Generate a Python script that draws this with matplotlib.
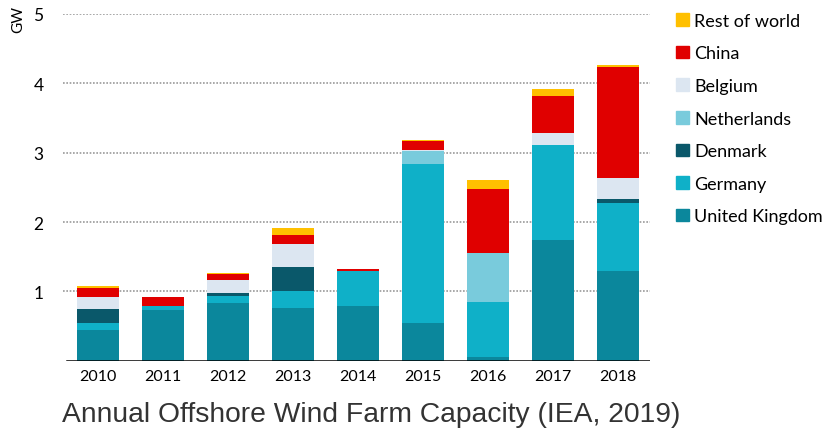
import numpy as np
import matplotlib.pyplot as plt
from matplotlib.patches import Patch

# annual offshore wind capacity additions, GW
years = ["2010", "2011", "2012", "2013", "2014", "2015", "2016", "2017", "2018"]
uk          = [0.44, 0.74, 0.84, 0.76, 0.79, 0.55, 0.05, 1.74, 1.30]
germany     = [0.11, 0.05, 0.09, 0.24, 0.51, 2.29, 0.80, 1.37, 0.97]
denmark     = [0.20, 0.00, 0.05, 0.35, 0.00, 0.00, 0.00, 0.00, 0.06]
netherlands = [0.00, 0.00, 0.00, 0.00, 0.00, 0.18, 0.70, 0.00, 0.00]
belgium     = [0.17, 0.00, 0.18, 0.33, 0.00, 0.02, 0.00, 0.17, 0.31]
china       = [0.13, 0.13, 0.09, 0.13, 0.03, 0.13, 0.92, 0.54, 1.60]
rest        = [0.03, 0.00, 0.02, 0.10, 0.00, 0.01, 0.13, 0.09, 0.02]

series = [
    ("United Kingdom", uk, "#0b879c"),
    ("Germany", germany, "#0fb0c8"),
    ("Denmark", denmark, "#0a586a"),
    ("Netherlands", netherlands, "#79cbdc"),
    ("Belgium", belgium, "#dce6f1"),
    ("China", china, "#e00000"),
    ("Rest of world", rest, "#ffc000"),
]

plt.rcParams['font.family'] = ['Lato', 'DejaVu Sans']

fig = plt.figure(figsize=(8.29, 4.35), dpi=100)
ax = fig.add_axes([0.076, 0.168, 0.708, 0.798])

x = np.arange(len(years))
bottom = np.zeros(len(years))
for name, vals, col in series:
    ax.bar(x, vals, width=0.64, bottom=bottom, color=col, zorder=3)
    bottom += np.array(vals)

ax.set_xlim(-0.54, 8.49)
ax.set_ylim(0, 5)
ax.set_yticks([1, 2, 3, 4, 5])
for yv in [1, 2, 3, 4, 5]:
    ax.axhline(yv, color="#999999", lw=1.2, ls=(0, (1, 1)), zorder=1)
ax.axhline(0, xmin=0.006, color="black", lw=1.8, zorder=4)

ax.set_xticks(x)
ax.set_xticklabels(years, fontsize=11.5)
ax.tick_params(axis="y", labelsize=12.5, length=0, pad=14)
ax.tick_params(axis="x", length=0, pad=6)
for s in ax.spines.values():
    s.set_visible(False)

fig.text(0.022, 0.955, "GW", rotation=90, fontsize=11, ha="center", va="center")

handles = [Patch(color=col, label=name) for name, vals, col in series][::-1]
fig.legend(handles=handles, loc="upper left", bbox_to_anchor=(0.807, 0.985),
           frameon=False, fontsize=13, handlelength=0.7, handleheight=0.7,
           handletextpad=0.3, labelspacing=0.92, borderaxespad=0)

fig.text(0.075, 0.045, "Annual Offshore Wind Farm Capacity (IEA, 2019)",
         fontsize=20.3, family="Liberation Sans", color="#333333", ha="left", va="center")

fig.savefig("out.png", dpi=100)
